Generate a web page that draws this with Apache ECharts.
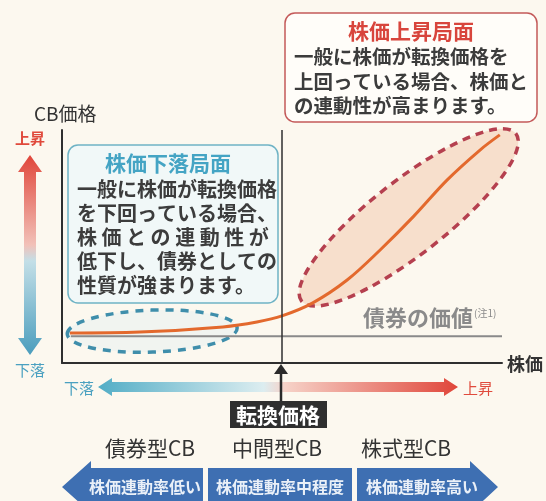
<!DOCTYPE html>
<html>
<head>
<meta charset="utf-8">
<script src="https://cdn.jsdelivr.net/npm/echarts@6/dist/echarts.min.js"></script>
<style>
html,body{margin:0;padding:0;background:#fcf8ef;}
#c{width:546px;height:501px;}
</style>
</head>
<body>
<div id="c"></div>
<script>
// ---- data ----
const curveX = [1.8, 17.7, 36.6, 44.3, 50, 57, 64.8, 72.3, 79.8, 87.5, 95, 99.5];
const curveY = [12.9, 13.3, 15.5, 17.6, 20.2, 25.8, 35.6, 48.5, 62.7, 78.5, 91.4, 97.9];
const bondX = [2, 100];
const bondY = [11.5, 11.5];
const conversionPriceX = 50;
const fallZoneCenter = [20.5, 13.7];
const riseZoneCenter = [78.8, 62.5];
const yAxisName = 'CB価格';
const xAxisName = '株価';
const bondLabel = '債券の価値';
const bondNote = '(注1)';
const upText = '上昇';
const downText = '下落';
const convText = '転換価格';
const cbTypes = ['債券型CB', '中間型CB', '株式型CB'];
const linkLabels = ['株価連動率低い', '株価連動率中程度', '株価連動率高い'];
const riseTitle = '株価上昇局面';
const riseLines = ['一般に株価が転換価格を', '上回っている場合、株価と', 'の連動性が高まります。'];
const fallTitle = '株価下落局面';
const fallLines = ['一般に株価が転換価格', 'を下回っている場合、', '株 価 と の 連 動 性 が', '低下し、債券としての', '性質が強まります。'];

const FONT = '"Noto Sans CJK JP", "Noto Sans", sans-serif';
const chart = echarts.init(document.getElementById('c'), null, {renderer: 'canvas'});

const curveData = curveX.map((x, i) => [x, curveY[i]]);
const bondData = bondX.map((x, i) => [x, bondY[i]]);

chart.setOption({
  backgroundColor: '#fcf8ef',
  animation: false,
  grid: {left: 62, right: 44, top: 130, bottom: 138},
  xAxis: {type: 'value', min: 0, max: 100, splitLine: {show: false}, axisTick: {show: false}, axisLabel: {show: false},
    axisLine: {show: true, lineStyle: {color: '#2f2f2f', width: 2}}},
  yAxis: {type: 'value', min: 0, max: 100, splitLine: {show: false}, axisTick: {show: false}, axisLabel: {show: false},
    axisLine: {show: true, lineStyle: {color: '#2f2f2f', width: 2}}},
  series: [
    {type: 'line', data: bondData, symbol: 'none', z: 3,
     lineStyle: {color: '#8a8a8a', width: 2},
     markLine: {silent: true, symbol: 'none', label: {show: false},
       lineStyle: {color: '#2f2f2f', width: 1.5, type: 'solid'},
       data: [{xAxis: conversionPriceX}]}},
    {type: 'line', data: curveData, symbol: 'none', smooth: 0.35, z: 4,
     lineStyle: {color: '#e3692d', width: 3}}
  ]
});

function txt(text, x, y, size, color, opts) {
  opts = opts || {};
  return {type: 'text', z: 50, style: {text: text, x: x, y: y, font: (opts.weight || 'normal') + ' ' + size + 'px ' + FONT,
    fill: color, textAlign: opts.align || 'center', textVerticalAlign: 'middle', align: opts.align || 'center', verticalAlign: 'middle'}};
}

const rc = chart.convertToPixel({gridIndex: 0}, riseZoneCenter);
const fc = chart.convertToPixel({gridIndex: 0}, fallZoneCenter);

const g = [];
// zone ellipses
g.push({type: 'ellipse', x: rc[0], y: rc[1], rotation: 38 * Math.PI / 180, z: 1,
  shape: {cx: 0, cy: 0, rx: 136, ry: 37},
  style: {fill: 'rgba(245,212,190,0.7)', stroke: '#b5404f', lineWidth: 3.5, lineDash: [8, 6]}});
g.push({type: 'ellipse', x: fc[0], y: fc[1], rotation: 2 * Math.PI / 180, z: 1,
  shape: {cx: 0, cy: 0, rx: 85, ry: 21},
  style: {fill: 'rgba(215,236,242,0.3)', stroke: '#3f8eab', lineWidth: 3.5, lineDash: [8, 7]}});

// rise box
g.push({type: 'rect', z: 40, shape: {x: 285, y: 13, width: 252, height: 109, r: 10},
  style: {fill: '#fffdf9', stroke: '#c45a5a', lineWidth: 1.5}});
g.push(txt(riseTitle, 411, 31, 21, '#d8453c', {weight: 'bold'}));
riseLines.forEach((l, i) => g.push(txt(l, 294, 57 + i * 24.5, 19.5, '#3c3c3c', {align: 'left', weight: 'bold'})));

// fall box
g.push({type: 'rect', z: 40, shape: {x: 68, y: 145, width: 210, height: 158, r: 10},
  style: {fill: '#f1f8f8', stroke: '#6fb3c5', lineWidth: 1.5}});
g.push(txt(fallTitle, 168, 163, 21, '#44a4c4', {weight: 'bold'}));
fallLines.forEach((l, i) => g.push(txt(l, 77, 189 + i * 24, 20, '#3c3c3c', {align: 'left', weight: 'bold'})));

// axis names
g.push(txt(yAxisName, 34, 114, 19, '#333', {align: 'left'}));
g.push(txt(xAxisName, 507, 364, 18, '#333', {align: 'left', weight: 'bold'}));

// vertical gradient arrow
g.push({type: 'polygon', z: 10,
  shape: {points: [[30, 155], [42, 172], [36, 172], [36, 338], [42, 338], [30, 355], [18, 338], [24, 338], [24, 172], [18, 172]]},
  style: {fill: new echarts.graphic.LinearGradient(0, 0, 0, 1, [
    {offset: 0, color: '#e0463a'}, {offset: 0.45, color: '#f2c1b8'}, {offset: 0.53, color: '#c3dfe7'}, {offset: 1, color: '#4a9dbd'}])}});
g.push(txt(upText, 30, 138, 15, '#e04a3c', {weight: 'bold'}));
g.push(txt(downText, 30, 370, 15, '#4aa0c0'));

// horizontal gradient arrow
g.push({type: 'polygon', z: 10,
  shape: {points: [[98, 387], [112, 378], [112, 382], [444, 382], [444, 378], [458, 387], [444, 396], [444, 392], [112, 392], [112, 396]]},
  style: {fill: new echarts.graphic.LinearGradient(0, 0, 1, 0, [
    {offset: 0, color: '#52adc6'}, {offset: 0.46, color: '#dcedf0'}, {offset: 0.52, color: '#f6d2c8'}, {offset: 1, color: '#e0463a'}])}});
g.push(txt(downText, 79, 388, 15, '#4aa0c0'));
g.push(txt(upText, 478, 388, 15, '#e04a3c'));

// conversion price arrow + box
g.push({type: 'line', z: 12, shape: {x1: 281, y1: 402, x2: 281, y2: 372}, style: {stroke: '#2a2a2a', lineWidth: 2.5}});
g.push({type: 'polygon', z: 12, shape: {points: [[281, 364], [288, 374], [274, 374]]}, style: {fill: '#2a2a2a'}});
g.push({type: 'rect', z: 12, shape: {x: 230, y: 401, width: 97, height: 27}, style: {fill: '#2f2f2f'}});
g.push(txt(convText, 278, 415, 21, '#ffffff', {weight: 'bold'}));

// CB types
const typeX = [150, 277, 406];
cbTypes.forEach((t, i) => g.push(txt(t, typeX[i], 448, 21, '#333')));

// bottom blue bar
const barC = '#3e6fb2';
g.push({type: 'polygon', z: 10, shape: {points: [[62, 487], [91, 461], [91, 468], [203, 468], [203, 512], [91, 512], [91, 513]]}, style: {fill: barC}});
g.push({type: 'rect', z: 10, shape: {x: 208, y: 468, width: 144, height: 45}, style: {fill: barC}});
g.push({type: 'polygon', z: 10, shape: {points: [[357, 468], [470, 468], [470, 461], [498, 487], [470, 513], [357, 513]]}, style: {fill: barC}});
const linkX = [145, 280, 422];
linkLabels.forEach((t, i) => g.push(txt(t, linkX[i], 487, 16, '#eaf0f8', {weight: 'bold'})));

// bond label
g.push(txt(bondLabel, 363, 318, 22, '#8a8a8a', {align: 'left', weight: 'bold'}));
g.push(txt(bondNote, 474, 313, 10, '#8a8a8a', {align: 'left'}));

chart.setOption({graphic: {elements: g}});
</script>
</body>
</html>
